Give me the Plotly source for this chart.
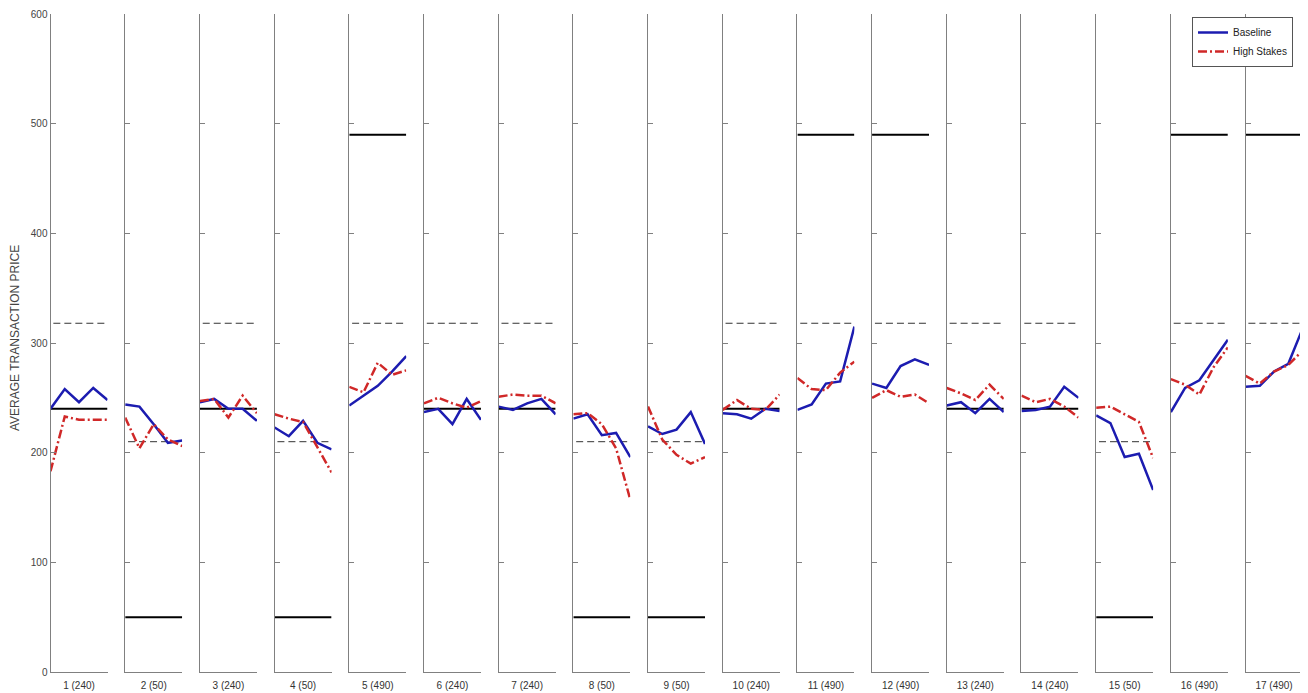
import plotly.graph_objects as go

# ---- data ----
labels = ["1 (240)", "2 (50)", "3 (240)", "4 (50)", "5 (490)", "6 (240)", "7 (240)", "8 (50)",
          "9 (50)", "10 (240)", "11 (490)", "12 (490)", "13 (240)", "14 (240)", "15 (50)",
          "16 (490)", "17 (490)"]
equilibrium = [240, 50, 240, 50, 490, 240, 240, 50, 50, 240, 490, 490, 240, 240, 50, 490, 490]
reference = [318, 210, 318, 210, 318, 318, 318, 210, 210, 318, 318, 318, 318, 318, 210, 318, 318]
periods = [1, 2, 3, 4, 5]

baseline = [
    [240, 258, 246, 259, 248],
    [244, 242, 226, 209, 211],
    [246, 249, 240, 240, 229],
    [223, 215, 229, 209, 203],
    [243, 252, 261, 274, 288],
    [237, 240, 226, 249, 230],
    [242, 239, 245, 249, 235],
    [231, 235, 216, 218, 196],
    [224, 217, 221, 237, 208],
    [236, 235, 231, 240, 238],
    [239, 244, 263, 265, 315],
    [263, 259, 279, 285, 280],
    [243, 246, 236, 249, 237],
    [238, 239, 242, 260, 250],
    [234, 227, 196, 199, 166],
    [237, 259, 266, 285, 303],
    [260, 261, 274, 281, 313],
]
high_stakes = [
    [183, 233, 230, 230, 230],
    [232, 204, 226, 212, 206],
    [247, 249, 232, 252, 236],
    [235, 231, 228, 205, 182],
    [260, 255, 282, 271, 275],
    [245, 250, 245, 241, 247],
    [251, 253, 252, 252, 245],
    [235, 236, 226, 204, 157],
    [242, 212, 198, 190, 196],
    [239, 248, 240, 239, 253],
    [268, 258, 257, 273, 283],
    [250, 257, 251, 253, 245],
    [259, 254, 248, 262, 249],
    [252, 246, 249, 242, 232],
    [241, 242, 235, 228, 195],
    [267, 262, 253, 278, 296],
    [270, 263, 274, 280, 293],
]
y_ticks = [0, 100, 200, 300, 400, 500, 600]

# ---- layout geometry (page body has an 8px margin) ----
W, H = 1300, 685
first_left = 42.5
spacing = 74.69
panel_w = 57.0
top_px, bottom_px = 6, 664
plot_h = bottom_px - top_px

BLUE = "#1c1cb0"
RED = "#d02828"
AXIS = "#808080"
FONT = "Liberation Sans"

fig = go.Figure()
layout = {}
n = len(labels)
for i in range(n):
    k = "" if i == 0 else str(i + 1)
    xa, ya = "x" + k, "y" + k
    x0 = (first_left + spacing * i) / W
    x1 = (first_left + spacing * i + panel_w) / W
    fig.add_trace(go.Scatter(x=[periods[0], periods[-1]], y=[equilibrium[i]] * 2, mode="lines",
                             line=dict(color="black", width=2), xaxis=xa, yaxis=ya,
                             showlegend=False, hoverinfo="skip"))
    fig.add_trace(go.Scatter(x=[periods[0] + 0.2, periods[-1]], y=[reference[i]] * 2, mode="lines",
                             line=dict(color="#333333", width=1, dash="7px,4px"), xaxis=xa, yaxis=ya,
                             showlegend=False, hoverinfo="skip"))
    fig.add_trace(go.Scatter(x=periods, y=baseline[i], mode="lines", name="Baseline",
                             line=dict(color=BLUE, width=2.5), xaxis=xa, yaxis=ya,
                             showlegend=(i == 0), legendgroup="b"))
    fig.add_trace(go.Scatter(x=periods, y=high_stakes[i], mode="lines", name="High Stakes",
                             line=dict(color=RED, width=2.5, dash="9px,3px,2px,3px"), xaxis=xa, yaxis=ya,
                             showlegend=(i == 0), legendgroup="h"))
    layout["xaxis" + k] = dict(domain=[x0, x1], range=[1, 5], anchor=ya, showline=True,
                               linecolor=AXIS, linewidth=1, showgrid=False, zeroline=False,
                               tickvals=[3], ticktext=[labels[i]], ticks="",
                               ticklabelstandoff=4,
                               tickfont=dict(family=FONT, size=10, color="#333333"))
    layout["yaxis" + k] = dict(domain=[0, 1], range=[0, 600], anchor=xa, showline=True,
                               linecolor=AXIS, linewidth=1, showgrid=False, zeroline=False,
                               tickvals=y_ticks, ticks="inside", ticklen=5, tickcolor=AXIS,
                               showticklabels=(i == 0),
                               tickfont=dict(family=FONT, size=10, color="#444444"))

fig.update_layout(**layout)
fig.update_layout(
    width=W, height=H,
    margin=dict(l=0, r=0, t=top_px, b=H - bottom_px, autoexpand=False),
    paper_bgcolor="white", plot_bgcolor="white",
    font=dict(family=FONT, size=10, color="#333333"),
    legend=dict(x=1184 / W, y=(bottom_px - 9) / plot_h, xanchor="left", yanchor="top",
                bordercolor="#555555", borderwidth=1, bgcolor="white",
                font=dict(family=FONT, size=10, color="#222222"),
                tracegroupgap=0, itemwidth=30),
    annotations=[dict(text="AVERAGE TRANSACTION PRICE", x=7 / W, y=(bottom_px - 330) / plot_h,
                      xref="paper", yref="paper", xanchor="center", yanchor="middle",
                      showarrow=False, textangle=-90,
                      font=dict(family=FONT, size=12, color="#444444"))],
)
fig.write_html("out.html")
